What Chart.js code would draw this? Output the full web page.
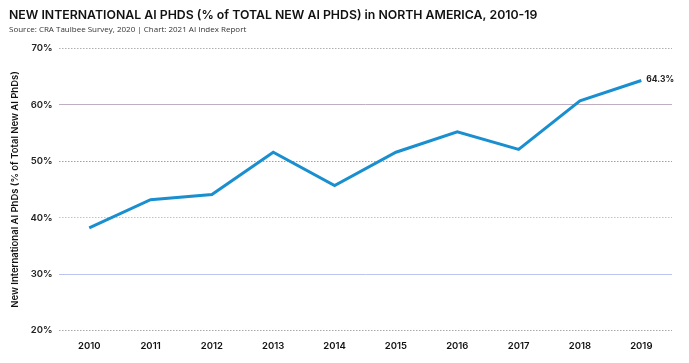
<!DOCTYPE html>
<html>
<head>
<meta charset="utf-8">
<script src="https://cdn.jsdelivr.net/npm/chart.js@4"></script>
<style>
  html, body { margin: 0; padding: 0; background: #fff; }
  #wrap { width: 689px; height: 363px; position: relative; }
</style>
</head>
<body>
<div id="wrap"><canvas id="chart"></canvas></div>
<script>
// data
const years = ["2010", "2011", "2012", "2013", "2014", "2015", "2016", "2017", "2018", "2019"];
const intlShare = [38.2, 43.2, 44.1, 51.6, 45.7, 51.6, 55.2, 52.1, 60.7, 64.3];
const yTicks = [20, 30, 40, 50, 60, 70];

// grid colours per tick value, and which ones are dotted
const gridColors = {
    20: "#a8a8a8", 30: "#bcc3ee", 40: "#dcc37a",
    50: "#b592b3", 60: "#bfaebf", 70: "#b0b0b0"
};
const dottedTicks = [20, 40, 50, 70];

const lastLabel = {
    id: "lastLabel",
    afterDatasetsDraw(chart) {
        const ctx = chart.ctx;
        const meta = chart.getDatasetMeta(0);
        const pt = meta.data[meta.data.length - 1];
        ctx.save();
        ctx.font = "bold 8.5px Inter";
        ctx.fillStyle = "#222";
        ctx.textBaseline = "middle";
        ctx.fillText(intlShare[intlShare.length - 1].toFixed(1) + "%", pt.x + 5, pt.y - 1);
        ctx.restore();
    }
};

const ctx = document.getElementById("chart").getContext("2d");
new Chart(ctx, {
    type: "line",
    data: {
        labels: years,
        datasets: [{
            data: intlShare,
            borderColor: "#1a8fcf",
            borderWidth: 3,
            pointRadius: 0,
            tension: 0,
            fill: false
        }]
    },
    options: {
        responsive: true,
        maintainAspectRatio: false,
        animation: false,
        layout: { padding: { left: 9, right: 17, top: 0, bottom: 9 } },
        plugins: {
            legend: { display: false },
            tooltip: { enabled: false },
            title: {
                display: true,
                align: "start",
                text: "NEW INTERNATIONAL AI PHDS (% of TOTAL NEW AI PHDS) in NORTH AMERICA, 2010-19",
                color: "#111",
                font: { family: "Inter", size: 12.3, weight: "600" },
                padding: { top: 8, bottom: 2 }
            },
            subtitle: {
                display: true,
                align: "start",
                text: "Source: CRA Taulbee Survey, 2020 | Chart: 2021 AI Index Report",
                color: "#333",
                font: { family: "Open Sans", size: 8 },
                padding: { bottom: 14 }
            }
        },
        scales: {
            x: {
                offset: true,
                grid: { display: false },
                border: { display: false },
                ticks: {
                    color: "#111",
                    font: { family: "Inter", size: 9.5, weight: "600" },
                    padding: 2,
                    maxRotation: 0
                }
            },
            y: {
                min: 20,
                max: 70,
                afterBuildTicks(axis) { axis.ticks = yTicks.map(v => ({ value: v })); },
                border: {
                    display: false,
                    dash: c => dottedTicks.includes(c.tick && c.tick.value) ? [1.5, 1.5] : []
                },
                grid: {
                    drawTicks: false,
                    lineWidth: 1,
                    color: c => gridColors[c.tick && c.tick.value] || "#ccc"
                },
                ticks: {
                    color: "#222",
                    font: { family: "Inter", size: 9.5, weight: "600" },
                    padding: 6,
                    callback: v => v + "%"
                },
                title: {
                    display: true,
                    text: "New International AI PhDs (% of Total New AI PhDs)",
                    color: "#111",
                    font: { family: "Inter", size: 9.5, weight: "600" },
                    padding: { top: 0, bottom: 4 }
                }
            }
        }
    },
    plugins: [lastLabel]
});
</script>
</body>
</html>
